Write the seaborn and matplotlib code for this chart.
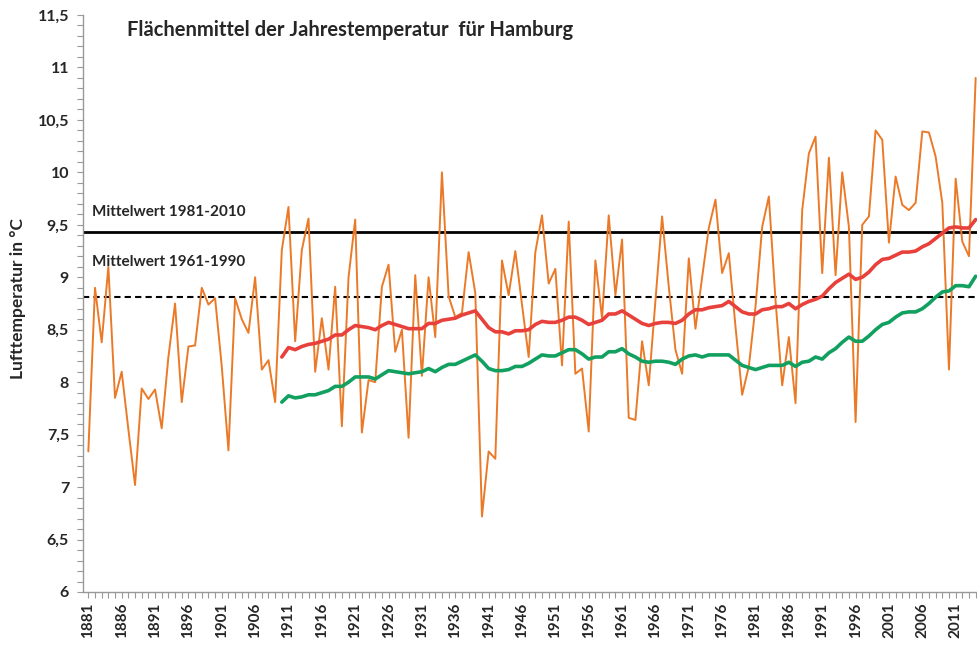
import numpy as np
import pandas as pd
import matplotlib
matplotlib.use("Agg")
import matplotlib.pyplot as plt
import seaborn as sns

# annual mean temperature Hamburg, 1881-2014
jahr_start = 1881
temp = [7.34, 8.90, 8.38, 9.10, 7.85, 8.10, 7.55, 7.02, 7.94, 7.84,
        7.93, 7.56, 8.24, 8.75, 7.81, 8.34, 8.35, 8.90, 8.74, 8.80,
        8.15, 7.35, 8.80, 8.60, 8.47, 9.00, 8.12, 8.21, 7.81, 9.26,
        9.67, 8.39, 9.26, 9.56, 8.10, 8.61, 8.12, 8.91, 7.58, 9.00,
        9.55, 7.52, 8.02, 8.00, 8.91, 9.12, 8.29, 8.50, 7.47, 9.02,
        8.06, 9.00, 8.43, 10.00, 8.82, 8.62, 8.66, 9.24, 8.85, 6.72,
        7.34, 7.27, 9.16, 8.83, 9.25, 8.74, 8.24, 9.24, 9.59, 8.94,
        9.08, 8.16, 9.53, 8.08, 8.13, 7.53, 9.16, 8.61, 9.59, 8.83,
        9.36, 7.66, 7.64, 8.39, 7.97, 8.78, 9.58, 8.91, 8.31, 8.08,
        9.18, 8.51, 9.00, 9.47, 9.74, 9.04, 9.23, 8.53, 7.88, 8.15,
        8.72, 9.48, 9.77, 8.78, 7.97, 8.43, 7.80, 9.64, 10.18, 10.34,
        9.04, 10.14, 9.02, 10.00, 9.48, 7.62, 9.50, 9.58, 10.40, 10.31,
        9.33, 9.96, 9.69, 9.64, 9.71, 10.39, 10.38, 10.15, 9.71, 8.12,
        9.94, 9.34, 9.20, 10.90]

# smoothed curves, 1910-2014
glatt_start = 1910
rot = [8.24, 8.33, 8.31, 8.34, 8.36, 8.37, 8.39, 8.41, 8.45, 8.45,
       8.50, 8.54, 8.53, 8.52, 8.50, 8.54, 8.57, 8.55, 8.53, 8.51,
       8.51, 8.51, 8.56, 8.56, 8.59, 8.60, 8.61, 8.64, 8.66, 8.68,
       8.60, 8.52, 8.48, 8.48, 8.46, 8.49, 8.49, 8.50, 8.55, 8.58,
       8.57, 8.57, 8.59, 8.62, 8.62, 8.59, 8.55, 8.57, 8.59, 8.65,
       8.65, 8.68, 8.64, 8.60, 8.56, 8.54, 8.56, 8.57, 8.57, 8.56,
       8.59, 8.65, 8.69, 8.69, 8.71, 8.72, 8.73, 8.77, 8.72, 8.67,
       8.65, 8.65, 8.69, 8.70, 8.72, 8.72, 8.75, 8.70, 8.74, 8.77,
       8.79, 8.82, 8.89, 8.95, 8.99, 9.03, 8.98, 9.00, 9.05, 9.12,
       9.17, 9.18, 9.21, 9.24, 9.24, 9.25, 9.29, 9.32, 9.37, 9.42,
       9.47, 9.48, 9.47, 9.47, 9.55]
gruen = [7.81, 7.87, 7.85, 7.86, 7.88, 7.88, 7.90, 7.92, 7.96, 7.96,
         8.00, 8.05, 8.05, 8.05, 8.03, 8.07, 8.11, 8.10, 8.09, 8.08,
         8.09, 8.10, 8.13, 8.10, 8.14, 8.17, 8.17, 8.20, 8.23, 8.26,
         8.20, 8.13, 8.11, 8.11, 8.12, 8.15, 8.15, 8.18, 8.22, 8.26,
         8.25, 8.25, 8.28, 8.31, 8.31, 8.27, 8.22, 8.24, 8.24, 8.29,
         8.29, 8.32, 8.27, 8.24, 8.20, 8.19, 8.20, 8.20, 8.19, 8.17,
         8.22, 8.25, 8.26, 8.24, 8.26, 8.26, 8.26, 8.26, 8.21, 8.16,
         8.14, 8.12, 8.14, 8.16, 8.16, 8.16, 8.19, 8.15, 8.19, 8.20,
         8.24, 8.22, 8.28, 8.32, 8.38, 8.43, 8.39, 8.39, 8.44, 8.50,
         8.55, 8.57, 8.62, 8.66, 8.67, 8.67, 8.70, 8.75, 8.81, 8.86,
         8.87, 8.92, 8.92, 8.91, 9.01]

mittel_1981_2010 = 9.43
mittel_1961_1990 = 8.81

y_ticks = [6, 6.5, 7, 7.5, 8, 8.5, 9, 9.5, 10, 10.5, 11, 11.5]
y_labels = ["6", "6,5", "7", "7,5", "8", "8,5", "9", "9,5", "10", "10,5", "11", "11,5"]
x_ticks = list(range(1881, 2012, 5))

df = pd.DataFrame({"Jahr": np.arange(jahr_start, jahr_start + len(temp)), "T": temp})
df_glatt = pd.DataFrame({"Jahr": np.arange(glatt_start, glatt_start + len(rot)),
                         "rot": rot, "gruen": gruen})

sns.set_style("ticks")
plt.rcParams['font.family'] = ['Lato', 'DejaVu Sans']

fig = plt.figure(figsize=(9.77, 6.47), dpi=100)
ax = fig.add_axes([83/977, 55/647, 894/977, 577/647])

ax.axhline(mittel_1981_2010, color="black", lw=2.0, zorder=1)
ax.axhline(mittel_1961_1990, color="black", lw=1.5, ls=(0, (3, 2)), zorder=1)

sns.lineplot(x="Jahr", y="T", data=df, color="#EB7A28", lw=1.4, ax=ax, zorder=3)
sns.lineplot(x="Jahr", y="rot", data=df_glatt, color="#E8413C", lw=2.6, ax=ax, zorder=4)
sns.lineplot(x="Jahr", y="gruen", data=df_glatt, color="#12A060", lw=2.6, ax=ax, zorder=4)

ax.set_xlim(1880.2, 2014.2)
ax.set_ylim(6, 11.5)
ax.set_yticks(y_ticks)
ax.set_yticklabels(y_labels, fontsize=11.5, fontweight="bold")
ax.set_yticks(np.arange(6, 11.51, 0.1), minor=True)
ax.set_xticks(x_ticks)
ax.set_xticklabels([str(j) for j in x_ticks], rotation=90, fontsize=11, fontweight="bold")
ax.set_xticks(np.arange(1881, 2015), minor=True)
ax.tick_params(axis="both", which="both", color="#999999", length=4, width=0.8)
ax.tick_params(axis="y", which="major", pad=6)

for s in ["top", "right"]:
    ax.spines[s].set_visible(False)
for s in ["left", "bottom"]:
    ax.spines[s].set_color("#999999")
    ax.spines[s].set_linewidth(1.0)

ax.set_xlabel("")
ax.set_ylabel("Lufttemperatur in °C", fontsize=12.5, fontweight="bold")
ax.yaxis.set_label_coords(-0.064, 0.508)

ax.text(1881.5, 9.62, "Mittelwert 1981-2010", fontsize=11, fontweight="bold", va="center")
ax.text(1881.5, 9.15, "Mittelwert 1961-1990", fontsize=11, fontweight="bold", va="center")
fig.text(127/977, 1 - 30/647, "Flächenmittel der Jahrestemperatur  für Hamburg",
         fontsize=14.5, fontweight="bold", va="center")

fig.savefig("out.png", dpi=100)
